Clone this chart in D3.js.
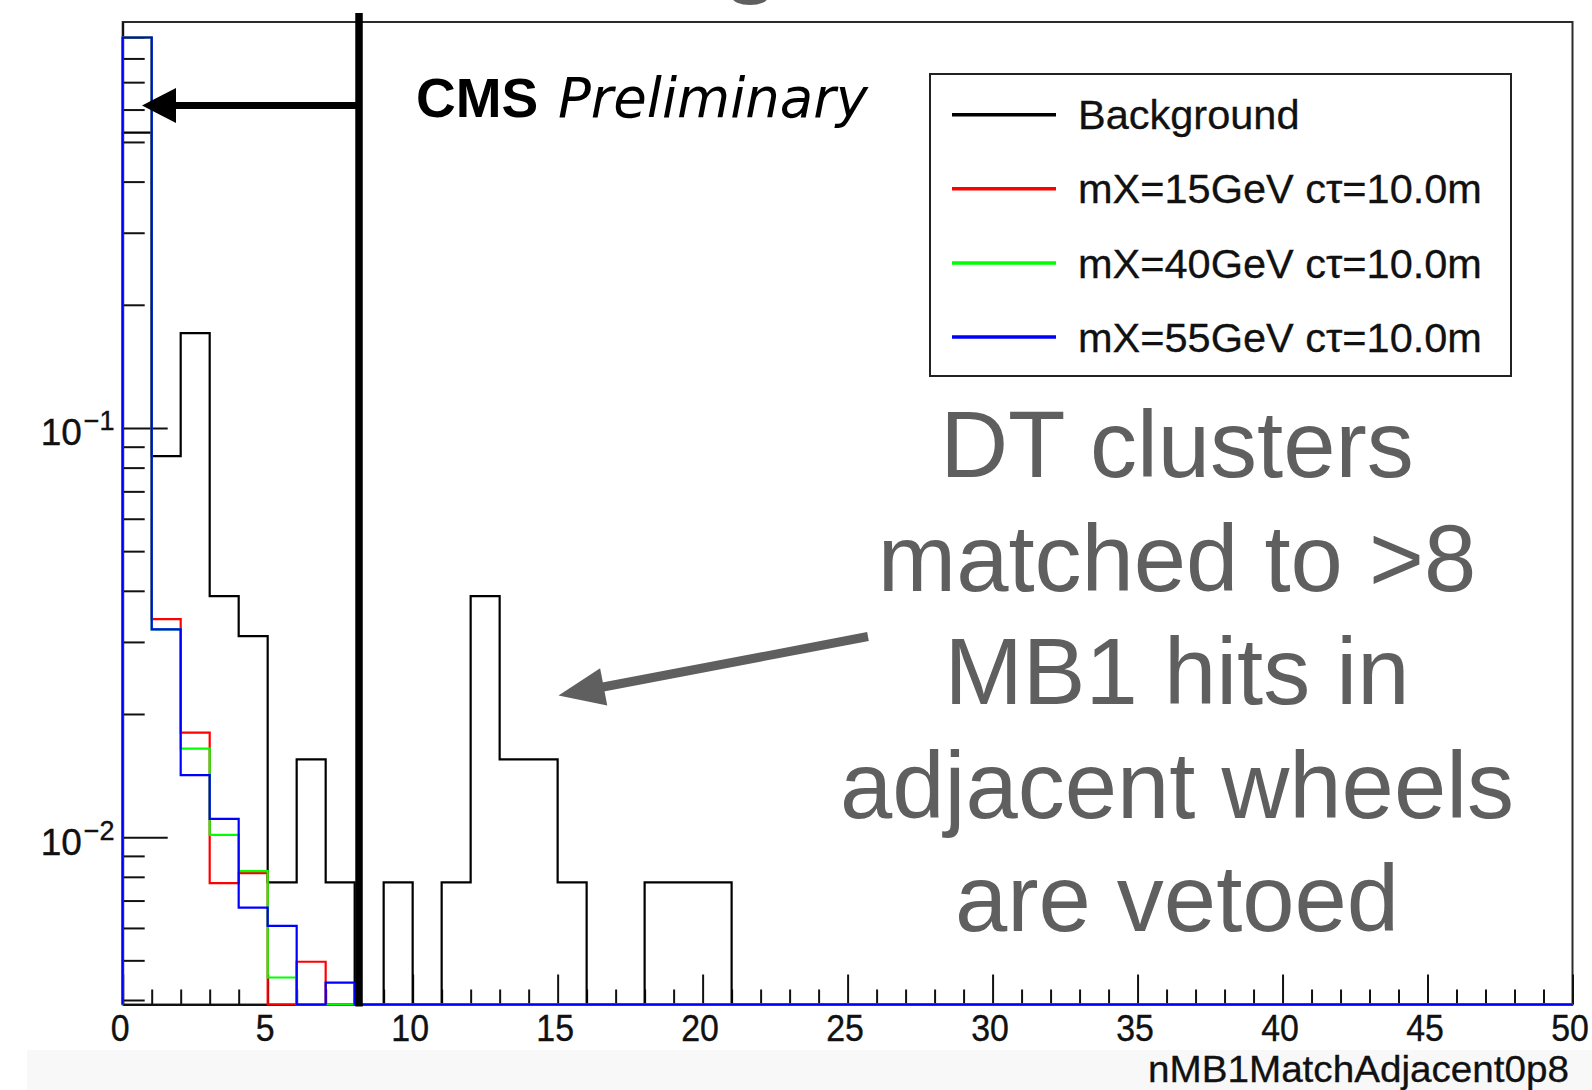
<!DOCTYPE html>
<html>
<head>
<meta charset="utf-8">
<script src="https://cdn.jsdelivr.net/npm/d3@7"></script>
<style>
  html, body { margin: 0; padding: 0; background: #fff; }
  svg { display: block; }
</style>
</head>
<body>
<svg id="chart" width="1592" height="1090"></svg>
<script>
// Bin edges: 50 unit-wide bins from 0 to 50
const binLow = d3.range(0, 50);

// Normalised bin contents (fraction of clusters per bin)
const background = [0.527, 0.0853, 0.1705, 0.0388, 0.031, 0.00775, 0.0155, 0.00775, 0, 0.00775,
                    0, 0.00775, 0.0388, 0.0155, 0.0155, 0.00775, 0, 0, 0.00775, 0.00775,
                    0.00775, 0, 0, 0, 0, 0, 0, 0, 0, 0,
                    0, 0, 0, 0, 0, 0, 0, 0, 0, 0,
                    0, 0, 0, 0, 0, 0, 0, 0, 0, 0];
const mX15 = [0.90, 0.0341, 0.0180, 0.00772, 0.00817, 0, 0.00496, 0, 0, 0,
              0, 0, 0, 0, 0, 0, 0, 0, 0, 0,
              0, 0, 0, 0, 0, 0, 0, 0, 0, 0,
              0, 0, 0, 0, 0, 0, 0, 0, 0, 0,
              0, 0, 0, 0, 0, 0, 0, 0, 0, 0];
const mX40 = [0.90, 0.0322, 0.01645, 0.01013, 0.00826, 0.00454, 0, 0, 0, 0,
              0, 0, 0, 0, 0, 0, 0, 0, 0, 0,
              0, 0, 0, 0, 0, 0, 0, 0, 0, 0,
              0, 0, 0, 0, 0, 0, 0, 0, 0, 0,
              0, 0, 0, 0, 0, 0, 0, 0, 0, 0];
const mX55 = [0.90, 0.0322, 0.01418, 0.01108, 0.00673, 0.00607, 0, 0.00441, 0, 0,
              0, 0, 0, 0, 0, 0, 0, 0, 0, 0,
              0, 0, 0, 0, 0, 0, 0, 0, 0, 0,
              0, 0, 0, 0, 0, 0, 0, 0, 0, 0,
              0, 0, 0, 0, 0, 0, 0, 0, 0, 0];

const seriesNames = ["Background", "mX=15GeV c\u03c4=10.0m", "mX=40GeV c\u03c4=10.0m", "mX=55GeV c\u03c4=10.0m"];
const seriesColors = ["#000000", "#ff0000", "#00ff00", "#0000ff"];

// Axis ranges and tick labels
const xRange = [0, 50];
const yRange = [0.0039, 0.982];
const xMajorTicks = [0, 5, 10, 15, 20, 25, 30, 35, 40, 45, 50];
const yMajorTicks = [0.01, 0.1];
const yMajorLabels = ["\u22122", "\u22121"];
const xTitle = "nMB1MatchAdjacent0p8";
const cutValue = 8.15;
const noteLines = ["DT clusters", "matched to >8", "MB1 hits in", "adjacent wheels", "are vetoed"];

const svg = d3.select("#chart");
const plot = { left: 122.7, right: 1572.5, top: 22, bottom: 1004.5 };
const rootFont = "Liberation Sans, Arial, Helvetica, sans-serif";

const x = d3.scaleLinear().domain(xRange).range([plot.left, plot.right]);
const y = d3.scaleLog().domain(yRange).range([plot.bottom, plot.top]).clamp(true);
const yv = v => (v > 0 ? y(v) : plot.bottom);

// Light strip at the foot of the page
svg.append("rect").attr("x", 27).attr("y", 1050).attr("width", 1565).attr("height", 40).attr("fill", "#f8f8f8");

// Frame
svg.append("rect")
  .attr("x", plot.left).attr("y", plot.top)
  .attr("width", plot.right - plot.left).attr("height", plot.bottom - plot.top)
  .attr("fill", "none").attr("stroke", "#2b2b2b").attr("stroke-width", 2);

// Axes: ticks point into the frame
const xMinor = d3.range(0, 51).filter(v => v % 5 !== 0);
svg.append("g").attr("transform", `translate(0,${plot.bottom})`)
  .call(d3.axisBottom(x).tickValues(xMinor).tickSize(-15).tickSizeOuter(0).tickFormat(""))
  .call(g => g.select(".domain").remove())
  .call(g => g.selectAll("line").attr("stroke", "#111").attr("stroke-width", 2));
const gx = svg.append("g").attr("transform", `translate(0,${plot.bottom})`)
  .call(d3.axisBottom(x).tickValues(xMajorTicks).tickSize(-30).tickSizeOuter(0).tickPadding(0))
  .call(g => g.select(".domain").attr("stroke", "#111").attr("stroke-width", 2));
gx.selectAll("line").attr("stroke", "#111").attr("stroke-width", 2);
gx.selectAll("text")
  .attr("dy", null).attr("y", 36.5).attr("x", -3)
  .attr("font-family", rootFont)
  .attr("font-size", 37).attr("fill", "#111")
  .attr("stroke", "#111").attr("stroke-width", 0.4)
  .each(function () {
    const t = d3.select(this);
    t.attr("textLength", this.getComputedTextLength() * 0.915).attr("lengthAdjust", "spacingAndGlyphs");
  });

const yMinor = [];
[0.001, 0.01, 0.1].forEach(d => { for (let k = 2; k <= 9; k++) { const v = d * k; if (v >= yRange[0] && v <= yRange[1]) yMinor.push(v); } });
svg.append("g").attr("transform", `translate(${plot.left},0)`)
  .call(d3.axisLeft(y).tickValues(yMinor).tickSize(-22).tickSizeOuter(0).tickFormat(""))
  .call(g => g.select(".domain").remove())
  .call(g => g.selectAll("line").attr("stroke", "#111").attr("stroke-width", 2));
const gy = svg.append("g").attr("transform", `translate(${plot.left},0)`)
  .call(d3.axisLeft(y).tickValues(yMajorTicks).tickSize(-45).tickSizeOuter(0).tickFormat(""))
  .call(g => g.select(".domain").attr("stroke", "#111").attr("stroke-width", 2));
gy.selectAll("line").attr("stroke", "#111").attr("stroke-width", 2);
gy.selectAll(".tick").each(function (d, i) {
  const t = d3.select(this).append("text")
    .attr("font-family", rootFont).attr("fill", "#111")
    .attr("stroke", "#111").attr("stroke-width", 0.4)
    .attr("text-anchor", "start").attr("x", -82).attr("y", 17);
  t.append("tspan").attr("font-size", 37).text("10");
  t.append("tspan").attr("font-size", 27).attr("dx", 2).attr("dy", -15).text(yMajorLabels[i]);
});

// Histograms drawn as step outlines
const stepLine = d3.line().x(p => x(p[0])).y(p => p[1]).curve(d3.curveStepAfter);
function outline(vals) {
  const pts = [[xRange[0], plot.bottom]];
  binLow.forEach((b, i) => pts.push([b, yv(vals[i])]));
  pts.push([xRange[1], yv(vals[vals.length - 1])]);
  pts.push([xRange[1], plot.bottom]);
  return pts;
}
[background, mX15, mX40, mX55].forEach((vals, i) => {
  svg.append("path").attr("d", stepLine(outline(vals)))
    .attr("fill", "none").attr("stroke", seriesColors[i]).attr("stroke-width", 2.2)
    .attr("stroke-linejoin", "miter");
});

// CMS label
const cms = svg.append("text").attr("x", 416).attr("y", 117).attr("fill", "#000");
cms.append("tspan").attr("font-family", rootFont).attr("font-weight", "bold").attr("font-size", 55).text("CMS");
cms.append("tspan").attr("x", 558).attr("font-family", "DejaVu Sans, sans-serif").attr("font-style", "italic").attr("font-size", 54.5).text("Preliminary");

// Legend
const leg = { x: 930, y: 74, w: 581, h: 302 };
svg.append("rect").attr("x", leg.x).attr("y", leg.y).attr("width", leg.w).attr("height", leg.h)
  .attr("fill", "#fff").attr("stroke", "#222").attr("stroke-width", 2);
const rowY = [114.7, 188.8, 263, 337];
seriesNames.forEach((name, i) => {
  svg.append("line").attr("x1", 952).attr("x2", 1056).attr("y1", rowY[i]).attr("y2", rowY[i])
    .attr("stroke", seriesColors[i]).attr("stroke-width", 3.5);
  svg.append("text").attr("x", 1078).attr("y", rowY[i] + 14.5)
    .attr("font-family", rootFont).attr("font-size", 41.5).attr("fill", "#111")
    .attr("stroke", "#111").attr("stroke-width", 0.3)
    .text(name);
});

// Cut line and the arrow pointing at the accepted region
svg.append("line").attr("x1", x(cutValue)).attr("x2", x(cutValue)).attr("y1", 13).attr("y2", plot.bottom + 2)
  .attr("stroke", "#000").attr("stroke-width", 7.5);
const arrowY = 105.6;
svg.append("line").attr("x1", x(cutValue)).attr("x2", 172).attr("y1", arrowY).attr("y2", arrowY)
  .attr("stroke", "#000").attr("stroke-width", 7);
svg.append("path").attr("d", `M142,${arrowY} L176,${arrowY - 17.5} L176,${arrowY + 17.5} Z`).attr("fill", "#000");

// Annotation
const grey = "#5f5f5f";
const tail = [868, 636.5], tip = [558.5, 695.5];
const dx = tip[0] - tail[0], dy = tip[1] - tail[1], len = Math.hypot(dx, dy);
const ux = dx / len, uy = dy / len, nx = -uy, ny = ux;
const headLen = 46, headHalf = 19;
const bx = tip[0] - ux * headLen, by = tip[1] - uy * headLen;
svg.append("line").attr("x1", tail[0]).attr("y1", tail[1]).attr("x2", bx + ux * 2).attr("y2", by + uy * 2)
  .attr("stroke", grey).attr("stroke-width", 9);
svg.append("path")
  .attr("d", `M${tip[0]},${tip[1]} L${bx + nx * headHalf},${by + ny * headHalf} L${bx - nx * headHalf},${by - ny * headHalf} Z`)
  .attr("fill", grey);

const note = svg.append("text").attr("text-anchor", "middle")
  .attr("font-family", rootFont).attr("font-size", 94).attr("fill", grey);
noteLines.forEach((line, i) => {
  note.append("tspan").attr("x", 1177).attr("y", 477 + i * 113.5).text(line);
});
// Tail of a heading glyph poking in from above the page edge
svg.append("ellipse").attr("cx", 750).attr("cy", -3).attr("rx", 18).attr("ry", 8).attr("fill", grey);

// X-axis title
svg.append("text").attr("x", 1569).attr("y", 1082).attr("text-anchor", "end")
  .attr("font-family", rootFont).attr("font-size", 36.5).attr("fill", "#111")
  .attr("stroke", "#111").attr("stroke-width", 0.3)
  .attr("textLength", 421).attr("lengthAdjust", "spacingAndGlyphs")
  .text(xTitle);
</script>
</body>
</html>
